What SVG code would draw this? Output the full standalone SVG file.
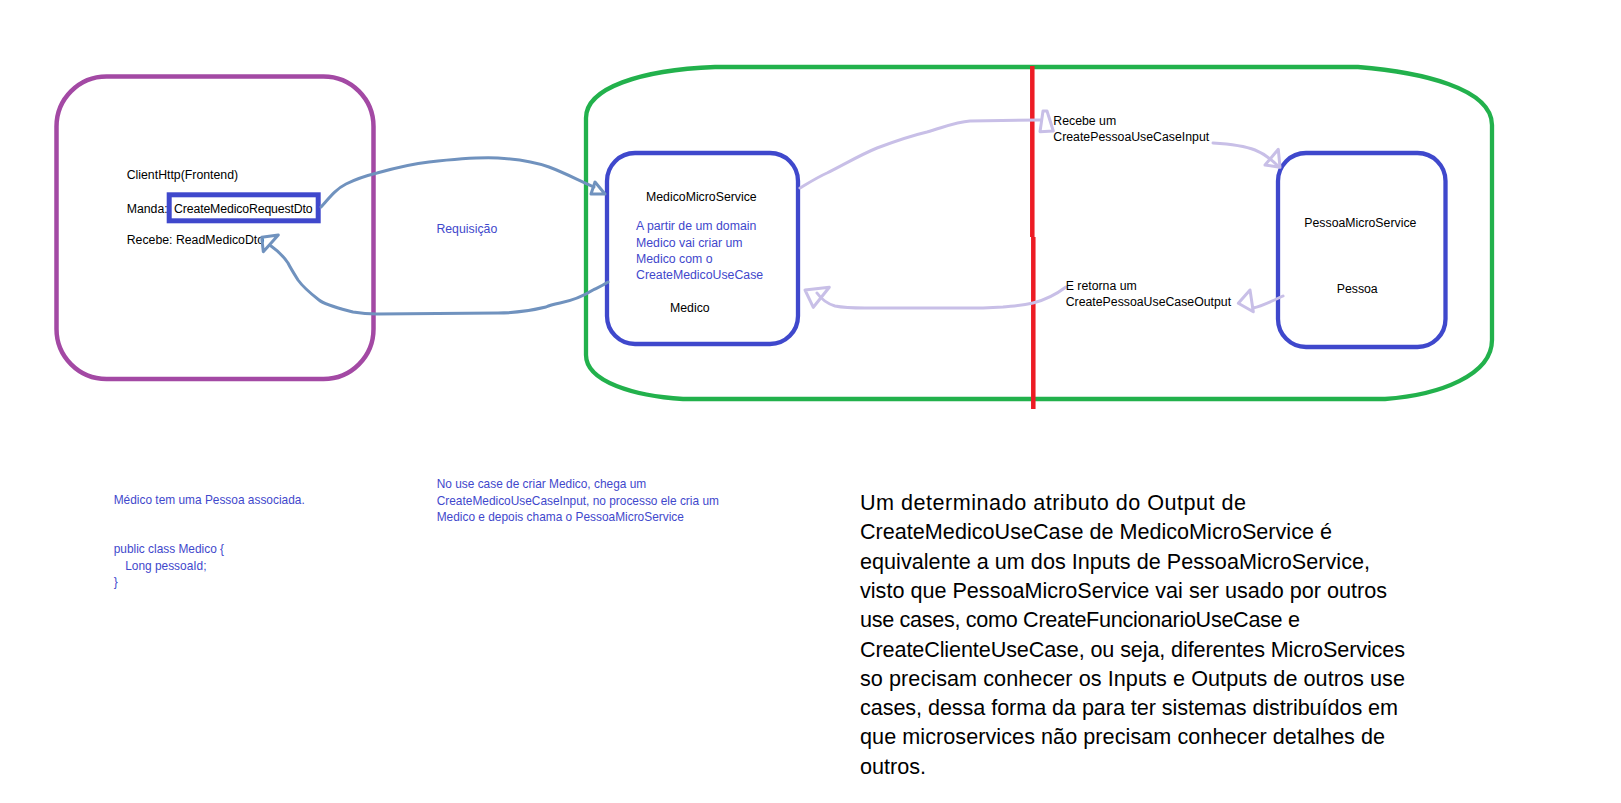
<svg xmlns="http://www.w3.org/2000/svg" width="1621" height="803" viewBox="0 0 1621 803">
<style>
  text { font-family: "Liberation Sans", Arial, sans-serif; }
  .lbl { font-size: 12.3px; fill: #000; }
  .blbl { font-size: 12.3px; fill: #3F48CC; }
  .note { font-size: 11.9px; fill: #3F48CC; }
  .big { font-size: 21.6px; fill: #000; }
  .svc { fill: none; stroke: #3F48CC; stroke-width: 4.3; }
  .c1 { fill: none; stroke: #7092BE; stroke-width: 3; stroke-linecap: round; stroke-linejoin: round; }
  .c2 { fill: none; stroke: #C8BFE7; stroke-width: 3; stroke-linecap: round; stroke-linejoin: round; }
</style>
<rect width="1621" height="803" fill="#fff"/>

<g id="system-boundary">
  <path d="M715,67 L1358,67 C1420,72 1492,88 1492,125 L1492,340 C1492,375 1440,395 1385,399 L683,399 C635,396 586,382 586,355 L586,118 C586,88 640,70 715,67 Z" fill="none" stroke="#22B14C" stroke-width="4.3"/>
</g>

<g id="divider">
  <path d="M1032.3,66 L1032.3,237 M1033.3,237 L1033.3,409" fill="none" stroke="#ED1C24" stroke-width="4.5"/>
</g>

<g id="client">
  <rect x="56.5" y="76.5" width="317" height="302.5" rx="50" fill="none" stroke="#A349A4" stroke-width="4.5"/>
  <text class="lbl" x="126.7" y="179">ClientHttp(Frontend)</text>
  <text class="lbl" x="126.7" y="212.5">Manda:</text>
  <rect x="169.2" y="194.8" width="149" height="26" fill="none" stroke="#3F48CC" stroke-width="5"/>
  <text class="lbl" x="174" y="212.5" textLength="138.7">CreateMedicoRequestDto</text>
  <text class="lbl" x="126.7" y="244">Recebe: ReadMedicoDto</text>
</g>

<g id="medico-service">
  <rect class="svc" x="607" y="153" width="191" height="191" rx="28"/>
  <text class="lbl" x="646" y="201">MedicoMicroService</text>
  <text class="blbl" x="636" y="230">A partir de um domain</text>
  <text class="blbl" x="636" y="247">Medico vai criar um</text>
  <text class="blbl" x="636" y="263">Medico com o</text>
  <text class="blbl" x="636" y="279">CreateMedicoUseCase</text>
  <text class="lbl" x="670" y="312">Medico</text>
</g>

<g id="pessoa-service">
  <rect class="svc" x="1278" y="153" width="167.5" height="194" rx="28"/>
  <text class="lbl" x="1304.3" y="227">PessoaMicroService</text>
  <text class="lbl" x="1336.7" y="293">Pessoa</text>
</g>

<g id="connectors">
  <!-- request: client -> medico -->
  <path class="c1" d="M321,207 C330,197 336,189 346,184 C358,178 365,176 377,173 C395,168 410,164 429,162 C455,159 478,157 498,158 C515,159 535,162 549,167 C565,173 578,180 594,187"/>
  <polygon class="c1" points="595,182 591,194 605,194"/>
  <!-- response: medico -> client -->
  <path class="c1" d="M608,282 C602,286 597,288 593,290 C585,295 575,300 560,303 C550,305 548,306 546,307 C530,311 512,313 498,313 L377,314 C366,314 359,313 353,312 C338,308 325,305 319,300 C310,293 303,287 298,280 C293,272 290,267 288,263 C284,257 278,251 271,246"/>
  <polygon class="c1" points="261.7,237.3 278.3,235 263.3,251.7"/>
  <!-- medico -> divider: input -->
  <path class="c2" d="M800,188 C810,182 818,177 827,173 C845,164 860,155 877,148 C893,142 910,136 927,132 C942,128 955,122 970,121 L1040,120"/>
  <polygon class="c2" points="1040,131.7 1043,111 1047,111 1053.3,131"/>
  <!-- input -> pessoa -->
  <path class="c2" d="M1213,143 C1230,144 1245,146 1255,150 C1265,154 1272,160 1278,166"/>
  <polygon class="c2" points="1278.3,149.3 1280,167.3 1265,165"/>
  <!-- pessoa -> output -->
  <path class="c2" d="M1283,296 C1270,302 1262,306 1253,308"/>
  <polygon class="c2" points="1250,290 1238.3,303.3 1253.3,311.7"/>
  <!-- output -> medico -->
  <path class="c2" d="M1066,287 C1058,293 1045,300 1033,303 C1020,306 1010,306 1003,307 L983,308 L865,308 C850,308 840,307 835,306 C828,304 822,300 817,293"/>
  <polygon class="c2" points="805,290 829.3,287.3 813.3,307.3"/>
  <text class="blbl" x="436.4" y="233">Requisição</text>
  <text class="lbl" x="1053.3" y="124.5">Recebe um</text>
  <text class="lbl" x="1053.3" y="141">CreatePessoaUseCaseInput</text>
  <text class="lbl" x="1065.7" y="289.5">E retorna um</text>
  <text class="lbl" x="1065.7" y="306">CreatePessoaUseCaseOutput</text>
</g>

<g id="note-medico">
  <text class="note" x="113.7" y="504">Médico tem uma Pessoa associada.</text>
  <text class="note" x="113.7" y="553">public class Medico {</text>
  <text class="note" x="125.2" y="569.5">Long pessoaId;</text>
  <text class="note" x="113.7" y="586">}</text>
</g>

<g id="note-usecase">
  <text class="note" x="436.7" y="488">No use case de criar Medico, chega um</text>
  <text class="note" x="436.7" y="505">CreateMedicoUseCaseInput, no processo ele cria um</text>
  <text class="note" x="436.7" y="521">Medico e depois chama o PessoaMicroService</text>
</g>

<g id="note-main">
  <text class="big" x="860" y="510" textLength="386">Um determinado atributo do Output de</text>
  <text class="big" x="860" y="539.3" textLength="472">CreateMedicoUseCase de MedicoMicroService é</text>
  <text class="big" x="860" y="568.6" textLength="510">equivalente a um dos Inputs de PessoaMicroService,</text>
  <text class="big" x="860" y="597.9" textLength="527">visto que PessoaMicroService vai ser usado por outros</text>
  <text class="big" x="860" y="627.2" textLength="440">use cases, como CreateFuncionarioUseCase e</text>
  <text class="big" x="860" y="656.5" textLength="545">CreateClienteUseCase, ou seja, diferentes MicroServices</text>
  <text class="big" x="860" y="685.8" textLength="545">so precisam conhecer os Inputs e Outputs de outros use</text>
  <text class="big" x="860" y="715.1" textLength="538">cases, dessa forma da para ter sistemas distribuídos em</text>
  <text class="big" x="860" y="744.4" textLength="525">que microservices não precisam conhecer detalhes de</text>
  <text class="big" x="860" y="773.7">outros.</text>
</g>
</svg>
